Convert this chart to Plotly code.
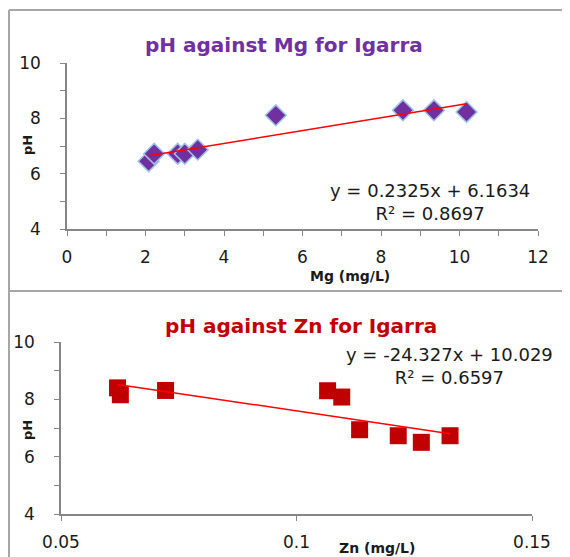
import plotly.graph_objects as go

# page body has an 8px margin; figure is sized to fill the rest of the window
OFF = 8
W, H = 570 - OFF, 557 - OFF

# ---- data ----
mg_values = [2.08, 2.22, 2.82, 3.00, 3.33, 5.32, 8.56, 9.35, 10.18]
ph_mg = [6.45, 6.72, 6.72, 6.72, 6.87, 8.11, 8.29, 8.29, 8.23]
mg_slope, mg_intercept = 0.2325, 6.1634
mg_eq_text = "y = 0.2325x + 6.1634"
mg_r2_text = "R² = 0.8697"

zn_values = [0.0620, 0.0626, 0.0722, 0.1066, 0.1096, 0.1134, 0.1216, 0.1265, 0.1326]
ph_zn = [8.40, 8.16, 8.31, 8.30, 8.08, 6.94, 6.73, 6.50, 6.73]
zn_slope, zn_intercept = -24.327, 10.029
zn_eq_text = "y = -24.327x + 10.029"
zn_r2_text = "R² = 0.6597"

mg_xticks = [0, 2, 4, 6, 8, 10, 12]
zn_xticks = [0.05, 0.1, 0.15]
zn_xtick_labels = ["0.05", "0.1", "0.15"]
ph_ticks = [4, 6, 8, 10]

FONT = "DejaVu Sans"
AX = "#868686"
TXT = "#1a1a1a"

def px(x):
    return (x - OFF) / W

def py(y):
    return 1 - (y - OFF) / H

fig = go.Figure()

# Mg chart
fig.add_trace(go.Scatter(
    x=mg_values, y=ph_mg, mode="markers", xaxis="x", yaxis="y",
    marker=dict(symbol="diamond", size=16, color="#7030A0",
                line=dict(color="#9DC3E6", width=1.5)),
    showlegend=False))
mg_lx = [min(mg_values), max(mg_values)]
fig.add_trace(go.Scatter(
    x=mg_lx, y=[mg_slope * v + mg_intercept for v in mg_lx], mode="lines",
    xaxis="x", yaxis="y", line=dict(color="#FF0000", width=1.5), showlegend=False))

# Zn chart
fig.add_trace(go.Scatter(
    x=zn_values, y=ph_zn, mode="markers", xaxis="x2", yaxis="y2",
    marker=dict(symbol="square", size=17, color="#C00000",
                line=dict(color="#C00000", width=0)),
    showlegend=False))
zn_lx = [min(zn_values), max(zn_values)]
fig.add_trace(go.Scatter(
    x=zn_lx, y=[zn_slope * v + zn_intercept for v in zn_lx], mode="lines",
    xaxis="x2", yaxis="y2", line=dict(color="#FF0000", width=1.5), showlegend=False))

axis_common = dict(showgrid=False, zeroline=False, showline=True, linecolor=AX,
                   linewidth=1.5, ticks="outside", tickcolor=AX, ticklen=5,
                   automargin=False,
                   tickfont=dict(family=FONT, size=17, color=TXT), fixedrange=True)

fig.update_layout(
    width=W, height=H, margin=dict(l=0, r=0, t=0, b=0),
    paper_bgcolor="white", plot_bgcolor="white",
    xaxis=dict(domain=[px(67), px(538)], range=[0, 12], anchor="y",
               tickvals=mg_xticks, ticklabelstandoff=7,
               minor=dict(dtick=1, ticks="outside", ticklen=5, tickcolor=AX),
               **axis_common),
    yaxis=dict(domain=[py(229), py(63)], range=[4, 10], anchor="x",
               tickvals=ph_ticks, ticklabelstandoff=16,
               minor=dict(dtick=1, ticks="outside", ticklen=5, tickcolor=AX),
               **axis_common),
    xaxis2=dict(domain=[px(61), px(532)], range=[0.05, 0.15], anchor="y2",
                tickvals=zn_xticks, ticktext=zn_xtick_labels, ticklabelstandoff=7,
                **axis_common),
    yaxis2=dict(domain=[py(514), py(342)], range=[4, 10], anchor="x2",
                tickvals=ph_ticks, ticklabelstandoff=16,
                minor=dict(dtick=1, ticks="outside", ticklen=5, tickcolor=AX),
                **axis_common),
)

BORDER = "#A6A6A6"
fig.add_shape(type="line", xref="paper", yref="paper", x0=px(9), x1=1, y0=py(10), y1=py(10),
              line=dict(color=BORDER, width=2))
fig.add_shape(type="line", xref="paper", yref="paper", x0=px(9), x1=px(9), y0=py(10), y1=0,
              line=dict(color=BORDER, width=2))
fig.add_shape(type="line", xref="paper", yref="paper", x0=px(9), x1=1, y0=py(291), y1=py(291),
              line=dict(color=BORDER, width=2))

def ann(text, x, y, size, color=TXT, bold=False, angle=0, xanchor="center"):
    t = f"<b>{text}</b>" if bold else text
    fig.add_annotation(text=t, x=px(x), y=py(y), xref="paper", yref="paper",
                       showarrow=False, xanchor=xanchor, yanchor="middle", textangle=angle,
                       align="center",
                       font=dict(family=FONT, size=size, color=color))

ann("pH against Mg for Igarra", 284, 45, 20, color="#7030A0", bold=True)
ann("pH against Zn for Igarra", 301, 326, 20, color="#C00000", bold=True)
ann(mg_eq_text + "<br>" + mg_r2_text, 430, 202, 18)
ann(zn_eq_text + "<br>" + zn_r2_text, 449, 366, 18)
ann("Mg (mg/L)", 350, 276, 14, bold=True)
ann("Zn (mg/L)", 377, 548, 14, bold=True)
ann("pH", 27, 145, 13, bold=True, angle=-90)
ann("pH", 27, 430, 13, bold=True, angle=-90)

fig.write_html("out.html")
